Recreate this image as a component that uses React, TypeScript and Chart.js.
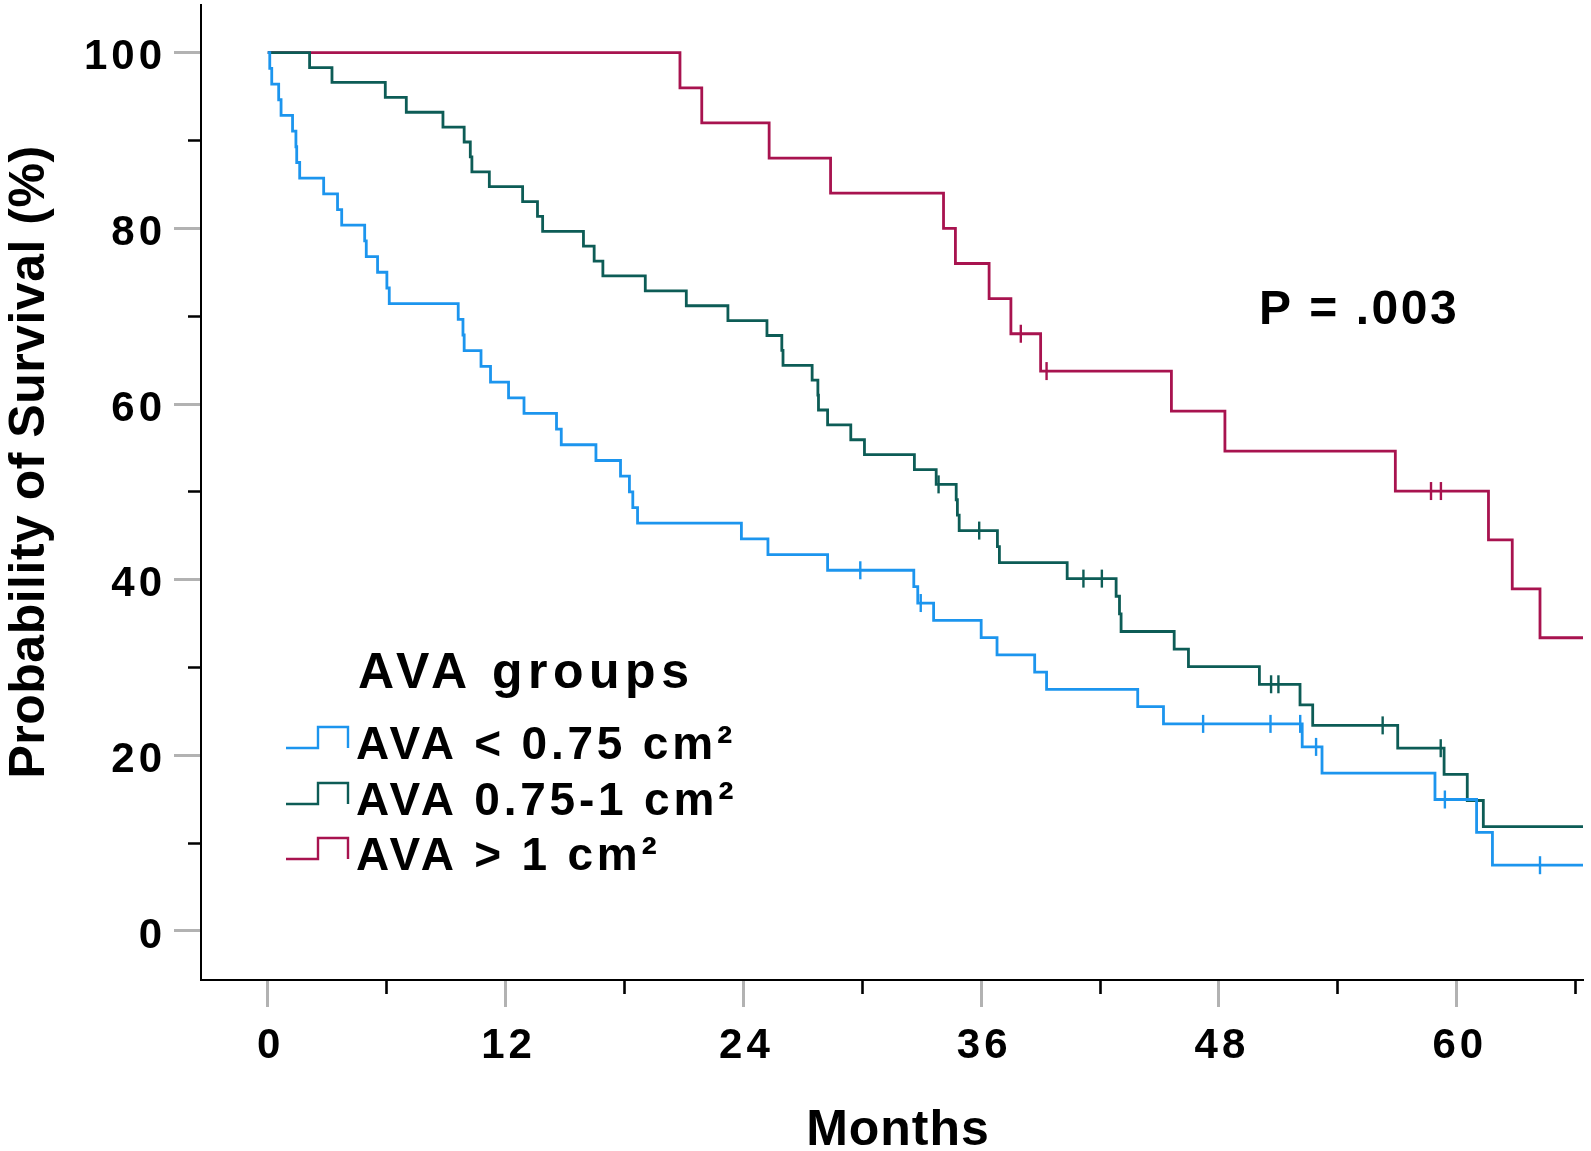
import { useEffect, useRef } from 'react';
import { Chart, registerables } from 'chart.js';

Chart.register(...registerables);

const FONT = "'Liberation Sans', Arial, Helvetica, sans-serif";

// ---------- data ----------
const groupLabels = ['AVA < 0.75 cm²', 'AVA 0.75-1 cm²', 'AVA > 1 cm²'];
const groupColors = ['#1c95ee', '#0d5c56', '#a8134f'];

// AVA < 0.75 cm²
const lowTimes = [0, 0.1, 0.2, 0.55, 0.67, 1.25, 1.42, 1.46, 1.61, 2.82, 3.52, 3.73, 4.89, 4.97, 5.54, 6.01, 6.13, 9.61, 9.85, 9.91, 10.76, 11.24, 12.15, 12.93, 14.57, 14.81, 16.56, 17.8, 18.25, 18.42, 18.66, 23.9, 25.24, 28.25, 32.6, 32.8, 33.6, 36.0, 36.8, 38.7, 39.3, 43.9, 45.2, 52.2, 53.2, 58.9, 61.0, 61.8, 67];
const lowSurv = [100, 98.21, 96.43, 94.64, 92.86, 91.07, 89.29, 87.5, 85.71, 83.93, 82.14, 80.36, 78.57, 76.79, 75.0, 73.21, 71.43, 69.64, 67.86, 66.07, 64.29, 62.5, 60.71, 58.93, 57.14, 55.36, 53.57, 51.79, 50.0, 48.21, 46.43, 44.64, 42.86, 41.07, 39.2, 37.34, 35.37, 33.41, 31.44, 29.48, 27.51, 25.55, 23.58, 20.96, 17.97, 14.97, 11.23, 7.49, 7.49];
const lowCensorTimes = [29.9, 32.95, 47.2, 50.6, 52.1, 52.9, 59.4, 64.2];
const lowCensorSurv = [41.07, 37.34, 23.58, 23.58, 23.58, 20.96, 14.97, 7.49];

// AVA 0.75-1 cm²
const midTimes = [0, 2.11, 3.24, 5.93, 6.99, 8.84, 9.91, 10.22, 10.3, 11.18, 12.86, 13.61, 13.87, 15.93, 16.47, 16.91, 19.05, 21.12, 23.22, 25.19, 25.94, 26.0, 27.47, 27.76, 27.79, 28.25, 29.42, 30.11, 32.63, 33.73, 34.74, 34.8, 34.89, 36.82, 36.92, 40.34, 42.81, 42.98, 43.06, 45.74, 46.46, 50.04, 52.09, 52.73, 57.02, 59.36, 60.53, 61.34, 67];
const midSurv = [100, 98.31, 96.61, 94.92, 93.22, 91.53, 89.83, 88.14, 86.44, 84.75, 83.05, 81.36, 79.66, 77.97, 76.27, 74.58, 72.88, 71.19, 69.49, 67.8, 66.1, 64.41, 62.71, 61.02, 59.32, 57.63, 55.93, 54.24, 52.54, 50.85, 49.1, 47.34, 45.59, 43.77, 41.94, 40.12, 38.11, 36.11, 34.1, 32.1, 30.09, 28.09, 25.75, 23.41, 20.81, 17.84, 14.86, 11.89, 11.89];
const midCensorTimes = [33.85, 35.9, 41.16, 42.09, 50.63, 51.0, 56.26, 59.19];
const midCensorSurv = [50.85, 45.59, 40.12, 40.12, 28.09, 28.09, 23.41, 20.81];

// AVA > 1 cm²
const highTimes = [0, 20.8, 21.9, 25.3, 28.4, 34.1, 34.7, 36.4, 37.5, 39.0, 45.6, 48.3, 56.9, 61.6, 62.8, 64.2, 67];
const highSurv = [100, 96, 92, 88, 84, 80, 76, 72, 68, 63.75, 59.2, 54.64, 50.09, 44.52, 38.96, 33.39, 33.39];
const highCensorTimes = [38.0, 39.3, 58.7, 59.2];
const highCensorSurv = [68, 63.75, 50.09, 50.09];

// axes
const xTickValues = [0, 6, 12, 18, 24, 30, 36, 42, 48, 54, 60, 66];
const xLabelValues = [0, 12, 24, 36, 48, 60];
const yTickValues = [0, 10, 20, 30, 40, 50, 60, 70, 80, 90, 100];
const yLabelValues = [0, 20, 40, 60, 80, 100];

const xTitle = 'Months';
const yTitle = 'Probability of Survival (%)';
const pText = 'P = .003';
const legendTitle = 'AVA groups';

const MAJOR_TICK = '#b2b2b2';

const lineDataset = (times: number[], surv: number[], color: string, label: string) => ({
  label,
  data: times.map((t, i) => ({ x: t, y: surv[i] })),
  borderColor: color,
  backgroundColor: color,
  borderWidth: 2.8,
  pointRadius: 0,
  pointHoverRadius: 0,
  stepped: 'before' as const,
  fill: false,
  tension: 0,
});

const censorDataset = (times: number[], surv: number[], color: string, label: string) => ({
  label,
  data: times.map((t, i) => ({ x: t, y: surv[i] })),
  showLine: false,
  borderColor: color,
  backgroundColor: color,
  pointStyle: 'line' as const,
  pointRadius: 9,
  pointHoverRadius: 9,
  pointRotation: 90,
  pointBorderWidth: 2.4,
  pointBorderColor: color,
});

const textPlugin = {
  id: 'kmTexts',
  beforeDraw(chart: any) {
    (chart.ctx as any).letterSpacing = '4px';
  },
  beforeDatasetsDraw(chart: any) {
    (chart.ctx as any).letterSpacing = '0px';
  },
  afterDraw(chart: any) {
    const ctx = chart.ctx as any;
    ctx.save();
    ctx.fillStyle = '#000';

    // y-axis title
    ctx.save();
    ctx.letterSpacing = '0.5px';
    ctx.translate(44, 462);
    ctx.rotate(-Math.PI / 2);
    ctx.font = `bold 50px ${FONT}`;
    ctx.textAlign = 'center';
    ctx.textBaseline = 'alphabetic';
    ctx.fillText(yTitle, 0, 0);
    ctx.restore();

    // x-axis title
    ctx.letterSpacing = '1px';
    ctx.font = `bold 50px ${FONT}`;
    ctx.textAlign = 'center';
    ctx.textBaseline = 'alphabetic';
    ctx.fillText(xTitle, 898, 1145);

    // P value
    ctx.letterSpacing = '2.5px';
    ctx.font = `bold 48px ${FONT}`;
    ctx.textAlign = 'left';
    ctx.fillText(pText, 1259, 324);

    // legend title
    ctx.letterSpacing = '5.5px';
    ctx.font = `bold 50px ${FONT}`;
    ctx.fillText(legendTitle, 358, 688);

    // legend entries
    const baselines = [759, 815, 870];
    ctx.letterSpacing = '3.8px';
    ctx.font = `bold 46px ${FONT}`;
    groupLabels.forEach((lab, i) => {
      const b = baselines[i];
      ctx.strokeStyle = groupColors[i];
      ctx.lineWidth = 2.4;
      ctx.beginPath();
      ctx.moveTo(286, b - 11);
      ctx.lineTo(318, b - 11);
      ctx.lineTo(318, b - 32);
      ctx.lineTo(348, b - 32);
      ctx.lineTo(348, b - 11);
      ctx.stroke();
      ctx.fillStyle = '#000';
      ctx.fillText(lab, 356, b);
    });
    ctx.restore();
  },
};

export default function App() {
  const canvasRef = useRef<HTMLCanvasElement | null>(null);

  useEffect(() => {
    document.body.style.margin = '0';
    document.body.style.background = '#fff';
    if (!canvasRef.current) return;

    const isMajorX = (v: number) => xLabelValues.includes(v);
    const isMajorY = (v: number) => yLabelValues.includes(v);

    const chart = new Chart(canvasRef.current, {
      type: 'line',
      data: {
        datasets: [
          lineDataset(lowTimes, lowSurv, groupColors[0], groupLabels[0]),
          lineDataset(midTimes, midSurv, groupColors[1], groupLabels[1]),
          lineDataset(highTimes, highSurv, groupColors[2], groupLabels[2]),
          censorDataset(lowCensorTimes, lowCensorSurv, groupColors[0], groupLabels[0] + ' censored'),
          censorDataset(midCensorTimes, midCensorSurv, groupColors[1], groupLabels[1] + ' censored'),
          censorDataset(highCensorTimes, highCensorSurv, groupColors[2], groupLabels[2] + ' censored'),
        ] as any,
      },
      options: {
        animation: false,
        responsive: true,
        maintainAspectRatio: false,
        devicePixelRatio: 1,
        events: [],
        layout: { autoPadding: false, padding: { top: 5, right: 8, left: 0, bottom: 0 } },
        plugins: {
          legend: { display: false },
          tooltip: { enabled: false },
          title: { display: false },
        },
        scales: {
          x: {
            type: 'linear',
            min: -3.37,
            max: 66.37,
            afterBuildTicks: (s: any) => {
              s.ticks = xTickValues.map((v) => ({ value: v }));
            },
            afterFit: (s: any) => {
              s.height = 171;
              s.paddingLeft = 0;
              s.paddingRight = 0;
              s.paddingTop = 0;
              s.paddingBottom = 0;
            },
            border: { display: true, color: '#000', width: 2 },
            grid: {
              drawOnChartArea: false,
              drawTicks: true,
              tickLength: 27,
              tickColor: (c: any) => (isMajorX(c.tick?.value) ? MAJOR_TICK : '#000'),
              tickWidth: (c: any) => (isMajorX(c.tick?.value) ? 3 : 2.6),
              tickBorderDash: (c: any) => (isMajorX(c.tick?.value) ? [] : [13, 200]),
            } as any,
            ticks: {
              autoSkip: false,
              maxRotation: 0,
              minRotation: 0,
              padding: 14,
              labelOffset: 3,
              color: '#000',
              font: { family: FONT, size: 42, weight: 'bold' },
              callback: (v: any) => (xLabelValues.includes(Number(v)) ? String(v) : ''),
            },
          },
          y: {
            type: 'linear',
            min: -5.58,
            max: 105.43,
            afterBuildTicks: (s: any) => {
              s.ticks = yTickValues.map((v) => ({ value: v }));
            },
            afterFit: (s: any) => {
              s.width = 201;
              s.paddingLeft = 0;
              s.paddingRight = 0;
              s.paddingTop = 0;
              s.paddingBottom = 0;
            },
            border: { display: true, color: '#000', width: 2 },
            grid: {
              drawOnChartArea: false,
              drawTicks: true,
              tickLength: 27,
              tickColor: (c: any) => (isMajorY(c.tick?.value) ? MAJOR_TICK : '#000'),
              tickWidth: (c: any) => (isMajorY(c.tick?.value) ? 3 : 2.6),
              tickBorderDash: (c: any) => (isMajorY(c.tick?.value) ? [] : [0, 14, 13, 200]),
            } as any,
            ticks: {
              autoSkip: false,
              padding: 8,
              labelOffset: 5,
              color: '#000',
              font: { family: FONT, size: 42, weight: 'bold' },
              callback: (v: any) => (yLabelValues.includes(Number(v)) ? String(v) : ''),
            },
          },
        },
      },
      plugins: [textPlugin as any],
    });

    return () => {
      chart.destroy();
    };
  }, []);

  return (
    <div style={{ position: 'relative', width: '1591px', height: '1151px', background: '#fff' }}>
      <canvas ref={canvasRef} />
    </div>
  );
}
